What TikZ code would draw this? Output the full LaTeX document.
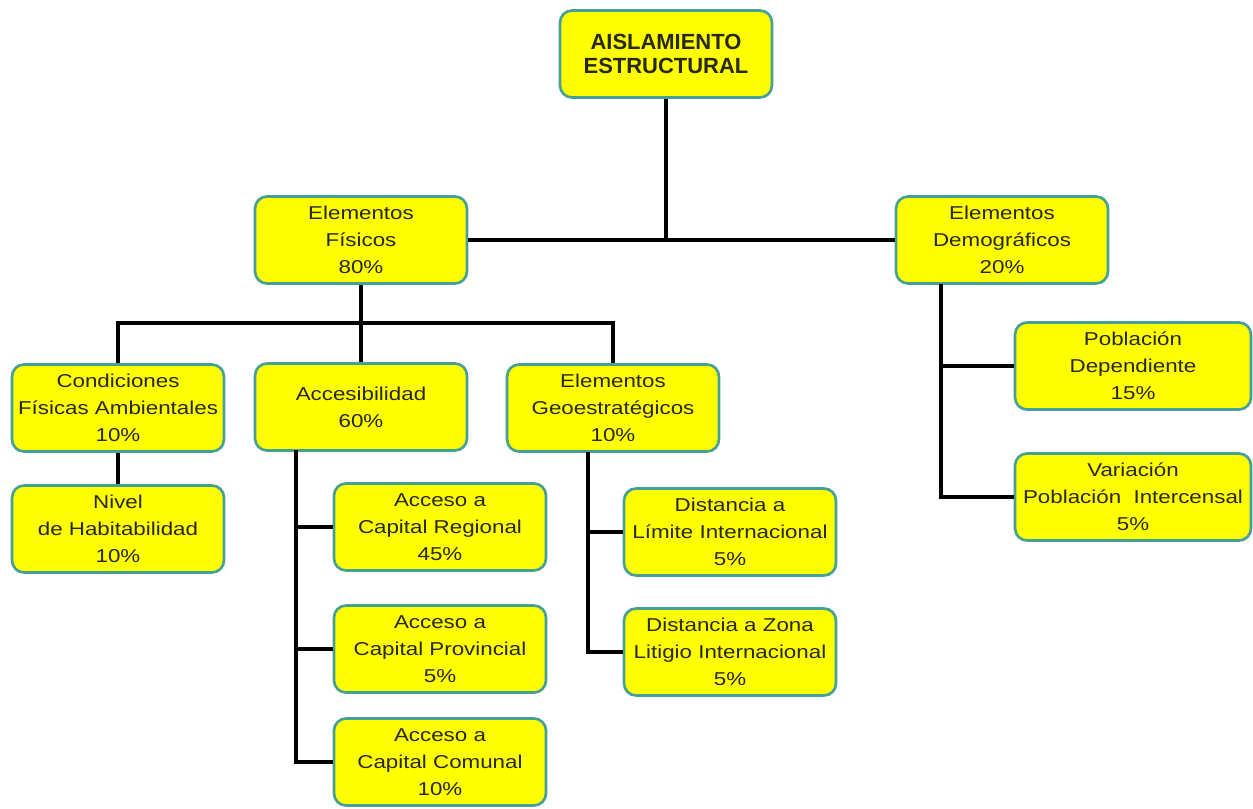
\documentclass[tikz,border=0pt]{standalone}
\usepackage{fontspec}
\setmainfont{Liberation Sans}
\newfontfamily\boxfont[FakeStretch=1.2]{Liberation Sans}
\newfontfamily\rootfont{Liberation Sans}
\definecolor{boxyellow}{RGB}{255,255,0}
\definecolor{boxedge}{RGB}{70,160,150}
\definecolor{boxtext}{RGB}{40,40,20}
\tikzset{
	itembox/.style={draw=boxedge, line width=1.5pt, fill=boxyellow, rounded corners=0.24cm,
		align=center, inner sep=0pt, text=boxtext, minimum height=1.74cm, minimum width=4.24cm,
		font=\boxfont\fontsize{10.6}{15.3}\selectfont},
	rootbox/.style={itembox, font=\rootfont\fontsize{12.5}{14}\selectfont\bfseries},
	link/.style={draw=black, line width=2.2pt}
}
\begin{document}
\begin{tikzpicture}[x=0.02cm, y=-0.02cm]
	\useasboundingbox (0,0) rectangle (1253,808);
	
	\node[rootbox] (root) at (666,54) {AISLAMIENTO\\ESTRUCTURAL};
	
	\node[itembox] (fis) at (361,240) {Elementos\\F\'isicos\\80\%};
	\node[itembox] (dem) at (1002,240) {Elementos\\Demogr\'aficos\\20\%};
	
	\node[itembox] (cond) at (118,408) {Condiciones\\F\'isicas Ambientales\\10\%};
	\node[itembox] (acc) at (361,407) {Accesibilidad\\60\%};
	\node[itembox] (geo) at (613,408) {Elementos\\Geoestrat\'egicos\\10\%};
	
	\node[itembox] (niv) at (118,529) {Nivel\\de Habitabilidad\\10\%};
	
	\node[itembox] (reg) at (440,527) {Acceso a\\Capital Regional\\45\%};
	\node[itembox] (prov) at (440,649) {Acceso a\\Capital Provincial\\5\%};
	\node[itembox] (com) at (440,762) {Acceso a\\Capital Comunal\\10\%};
	
	\node[itembox] (lim) at (730,532) {Distancia a\\L\'imite Internacional\\5\%};
	\node[itembox] (lit) at (730,652) {Distancia a Zona\\Litigio Internacional\\5\%};
	
	\node[itembox, minimum width=4.72cm] (pob) at (1133,366) {Poblaci\'on\\Dependiente\\15\%};
	\node[itembox, minimum width=4.72cm] (var) at (1133,497) {Variaci\'on\\Poblaci\'on\ \ Intercensal\\5\%};
	
	% trunk
	\draw[link] (root.south) -- (root.south |- fis.east);
	\draw[link] (fis.east) -- (dem.west);
	
	% physical elements
	\coordinate (fisbus) at (361,323);
	\draw[link] (fis.south) -- (acc.north);
	\draw[link] (cond.north) |- (fisbus) -| (geo.north);
	\draw[link] (cond.south) -- (niv.north);
	
	\coordinate (accline) at (296,450);
	\draw[link] (accline) |- (com.west);
	\foreach \n in {reg,prov}
		\draw[link] (accline) |- (\n.west);
	
	\coordinate (geoline) at (588,452);
	\draw[link] (geoline) |- (lit.west);
	\draw[link] (geoline) |- (lim.west);
	
	% demographic elements
	\coordinate (demline) at (941,284);
	\draw[link] (demline) |- (var.west);
	\draw[link] (demline) |- (pob.west);
\end{tikzpicture}
\end{document}
